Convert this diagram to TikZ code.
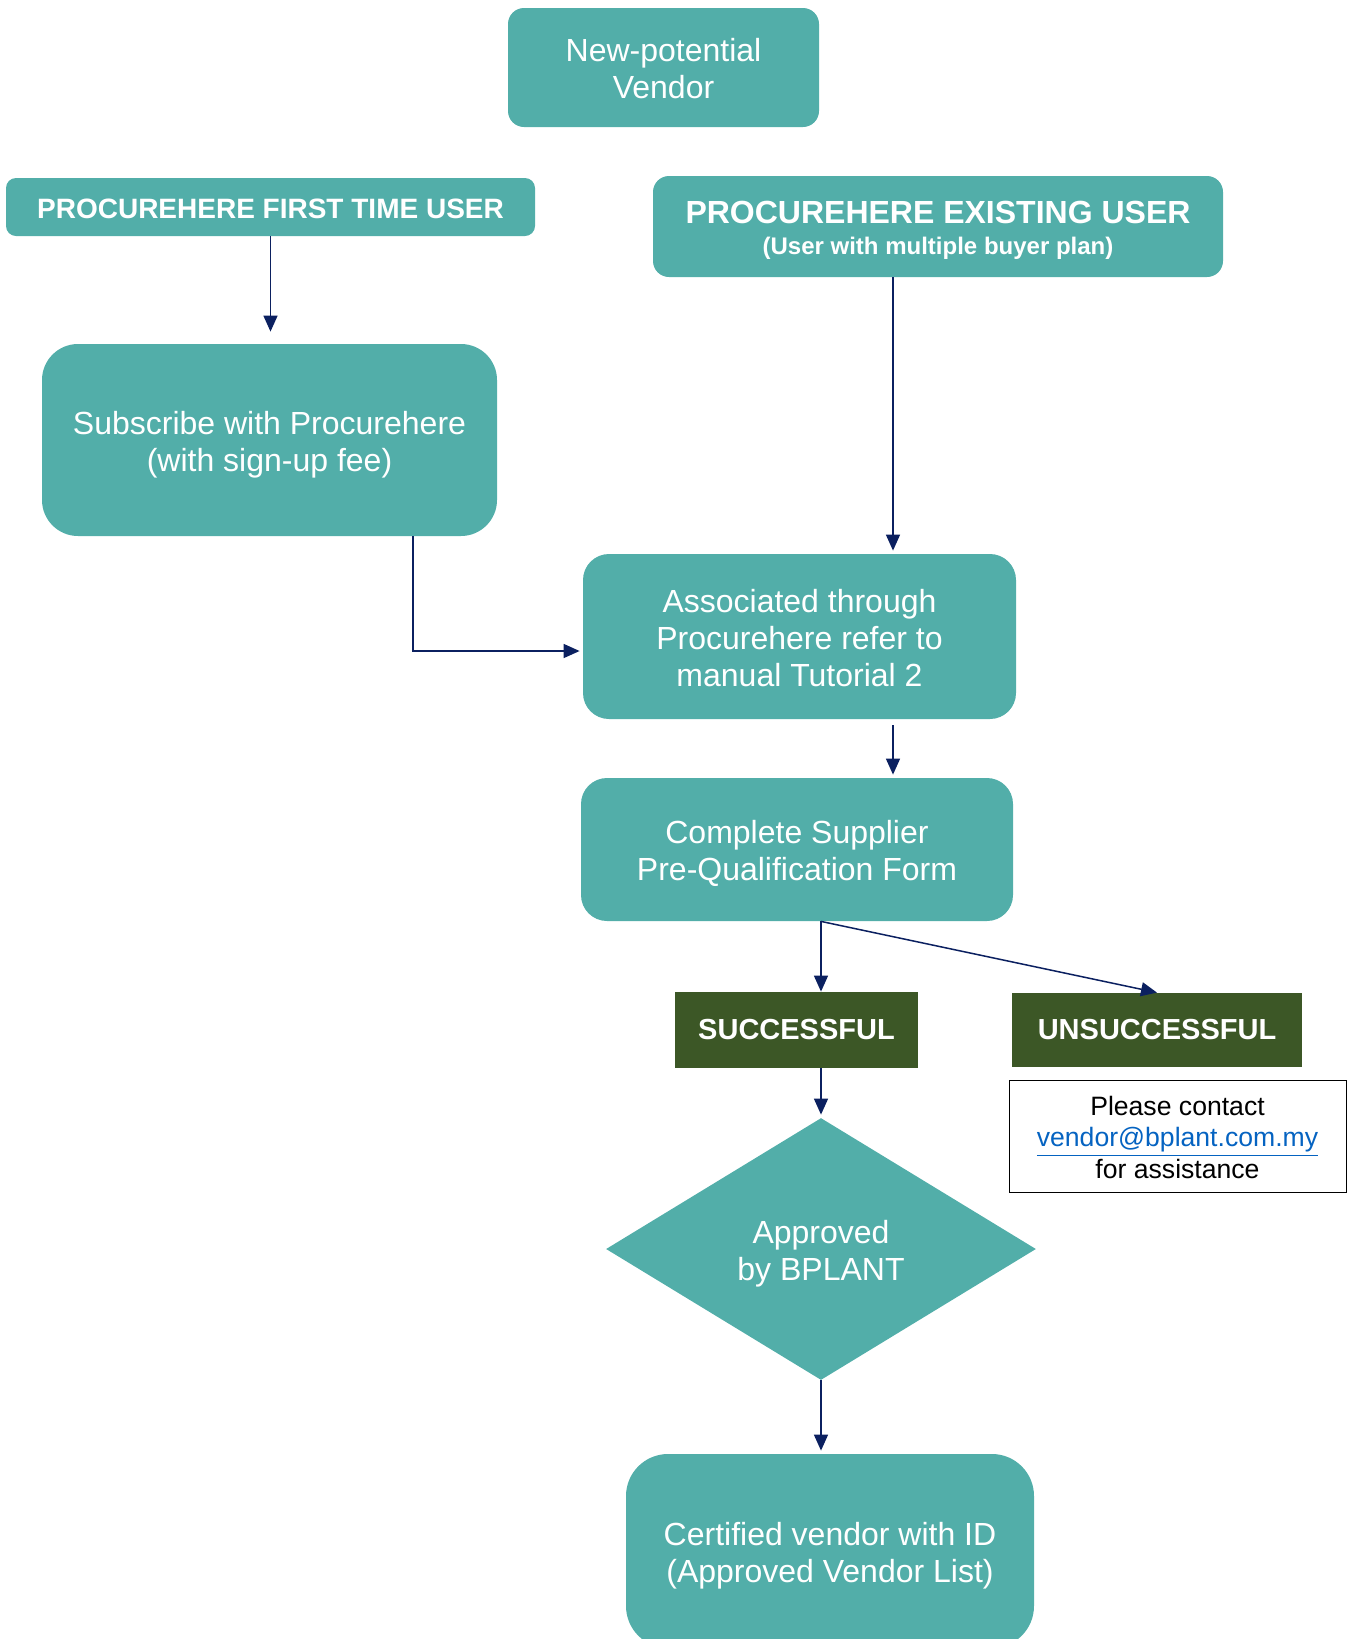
\documentclass[tikz,border=0pt]{standalone}
\usepackage{fontspec}
\setmainfont{Liberation Sans}
\usetikzlibrary{arrows.meta,shapes.geometric}
\definecolor{boxteal}{RGB}{82,174,169}
\definecolor{boxgreen}{RGB}{60,87,38}
\definecolor{linknavy}{RGB}{11,32,96}
\definecolor{mailblue}{RGB}{5,99,193}
\newcommand\boxstrut{\rule[-0.2em]{0pt}{1.2em}}

\begin{document}
\begin{tikzpicture}[x=0.5pt,y=-0.5pt,>={Triangle[length=8pt,width=7pt]},shorten >=1.5pt,
	process/.style={rectangle, rounded corners=13pt, fill=boxteal, text=white, align=center, inner sep=0pt, font=\fontsize{16}{18.5}\selectfont, execute at end node=\boxstrut},
	header/.style={process, rounded corners=5pt, font=\bfseries\fontsize{14}{16}\selectfont},
	result/.style={rectangle, fill=boxgreen, text=white, inner sep=0pt, font=\bfseries\fontsize{14.5}{17}\selectfont},
	decision/.style={diamond, fill=boxteal, text=white, align=center, inner sep=0pt, font=\fontsize{16}{18.5}\selectfont, execute at end node=\boxstrut},
	flow/.style={->, draw=linknavy, line width=0.75pt}]
				\useasboundingbox (0,0) rectangle (1353,1639);

				\node[process, rounded corners=8pt, minimum width=155.5pt, minimum height=59.5pt] (Vendor) at (663.5,67.5) {\boxstrut New-potential\\Vendor};
				\node[header, minimum width=264.5pt, minimum height=29pt] (FirstUser) at (270.5,207) {PROCUREHERE FIRST TIME USER};
				\node[header, rounded corners=8pt, minimum width=285pt, minimum height=50.5pt, font=\bfseries\fontsize{16}{15.5}\selectfont] (ExistingUser) at (938,226.5) {\boxstrut PROCUREHERE EXISTING USER\\{\fontsize{12}{14}\selectfont(User with multiple buyer plan)}};
				\node[process, rounded corners=18pt, minimum width=227.5pt, minimum height=96pt] (Subscribe) at (269.5,440) {\boxstrut Subscribe with Procurehere\\(with sign-up fee)};
				\node[process, minimum width=216.5pt, minimum height=82.5pt] (Associated) at (799.5,636.5) {\boxstrut Associated through\\Procurehere refer to\\manual Tutorial 2};
				\node[process, minimum width=216pt, minimum height=71.5pt] (Complete) at (797,849.5) {\boxstrut Complete Supplier\\Pre-Qualification Form};
				\node[result, minimum width=121.5pt, minimum height=38pt] (Successful) at (796.5,1030) {SUCCESSFUL};
				\node[result, minimum width=145pt, minimum height=37pt] (Unsuccessful) at (1157,1030) {UNSUCCESSFUL};
				\node[draw=black, line width=0.5pt, align=center, inner sep=0pt, minimum width=168.5pt, minimum height=56pt, font=\fontsize{13.3}{15.7}\selectfont, execute at end node=\boxstrut] (Contact) at (1177.5,1136) {\boxstrut Please contact\\\textcolor{mailblue}{\underline{vendor@bplant.com.my}}\\for assistance};
				\node[decision, minimum width=215pt, minimum height=131pt] (Approved) at (821,1249) {\boxstrut Approved\\by BPLANT};
				\node[process, rounded corners=21pt, minimum width=204pt, minimum height=97pt] (Certified) at (830,1551) {\boxstrut Certified vendor with ID\\(Approved Vendor List)};

				% off-centre exits
				\coordinate (ExistingOut) at ([xshift=-22.5pt]ExistingUser.south);
				\coordinate (SubscribeOut) at ([xshift=71.75pt]Subscribe.south);
				\coordinate (AssociatedOut) at ([xshift=46.75pt,yshift=-3pt]Associated.south);
				\coordinate (Split) at ([xshift=12pt]Complete.south);

				\draw[flow, shorten >=6pt] (FirstUser.south) -- (FirstUser.south |- Subscribe.north);
				\draw[flow] (ExistingOut) -- (ExistingOut |- Associated.north);
				\draw[flow] (SubscribeOut) |- ([yshift=-7.25pt]Associated.west);
				\draw[flow] (AssociatedOut) -- (AssociatedOut |- Complete.north);
				\draw[flow, shorten >=0pt] (Split) -- (Split |- Successful.north);
				\draw[flow, shorten >=0pt] (Split) -- (Unsuccessful.north);
				\draw[flow] (Approved.north |- Successful.south) -- (Approved.north);
				\draw[flow] (Approved.south) -- (Approved.south |- Certified.north);

			\end{tikzpicture}
\end{document}
